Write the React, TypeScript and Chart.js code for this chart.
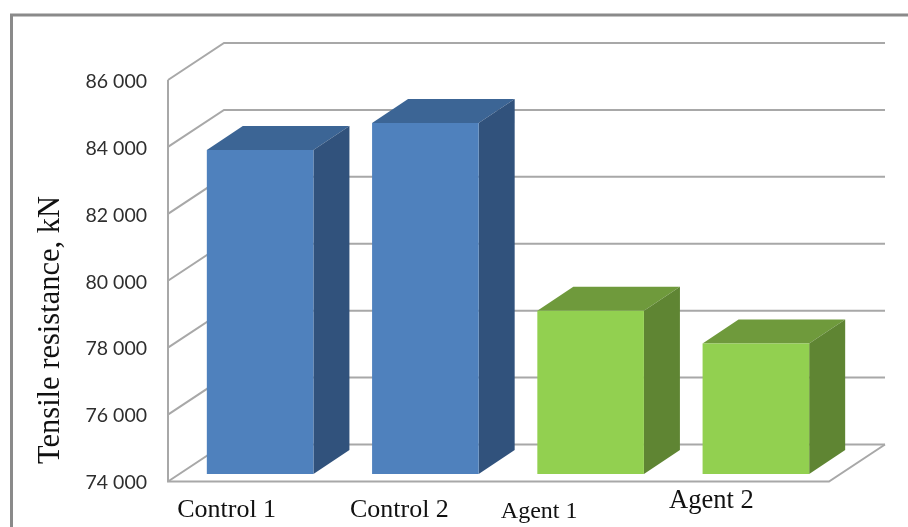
import React, { useEffect, useRef } from "react";
import { Chart, registerables } from "chart.js";

Chart.register(...registerables);

const categories = ["Control 1", "Control 2", "Agent 1", "Agent 2"];
const resistance = [83680, 84490, 78880, 77900];
const yMin = 74000;
const yMax = 86000;
const yStep = 2000;
const yTitle = "Tensile resistance, kN";

const frontFaces = ["#4f81bd", "#4f81bd", "#92d050", "#92d050"];
const topFaces = ["#3c6595", "#3c6595", "#6f9a3c", "#6f9a3c"];
const sideFaces = ["#31527c", "#31527c", "#5f8533", "#5f8533"];

// Oblique projection of the box: wall depth, bar inset and bar depth.
const WALL = { dx: 56, dy: -37 };
const INSET = { dx: 9.5, dy: -7.5 };
const BAR = { dx: 36, dy: -24 };

// Hand-placed category captions, relative to each category's centre.
const captions = [
  { nudge: -24, y: 510, size: 26 },
  { nudge: -16.5, y: 510, size: 26 },
  { nudge: -42, y: 512, size: 24 },
  { nudge: -35, y: 501, size: 26.5 },
];

const LINE = "#a8a8a8";

const frame3d = {
  id: "frame3d",
  beforeDraw(chart: any) {
    const { ctx, chartArea: a, scales } = chart;
    const y = scales.y;
    ctx.save();
    ctx.fillStyle = "#fff";
    ctx.fillRect(0, 0, chart.width, chart.height);

    // Outer panel border, open on the right and at the bottom.
    ctx.strokeStyle = "#8a8a8a";
    ctx.lineWidth = 3;
    ctx.beginPath();
    ctx.moveTo(11.5, chart.height);
    ctx.lineTo(11.5, 15);
    ctx.lineTo(chart.width, 15);
    ctx.stroke();

    // Side wall and back wall gridlines.
    ctx.strokeStyle = LINE;
    ctx.lineWidth = 2;
    for (let v = yMin; v <= yMax; v += yStep) {
      const py = y.getPixelForValue(v);
      ctx.beginPath();
      ctx.moveTo(a.left, py);
      ctx.lineTo(a.left + WALL.dx, py + WALL.dy);
      ctx.lineTo(a.right + WALL.dx, py + WALL.dy);
      ctx.stroke();
    }

    // Front edge of the side wall and of the floor.
    ctx.beginPath();
    ctx.moveTo(a.left, a.top);
    ctx.lineTo(a.left, a.bottom);
    ctx.lineTo(a.right, a.bottom);
    ctx.lineTo(a.right + WALL.dx, a.bottom + WALL.dy);
    ctx.stroke();
    ctx.restore();
  },
  beforeDatasetDraw(chart: any) {
    const { ctx } = chart;
    ctx.save();
    ctx.translate(INSET.dx, INSET.dy);
    chart.getDatasetMeta(0).data.forEach((bar: any, i: number) => {
      const { x, y, base, width } = bar.getProps(["x", "y", "base", "width"]);
      const l = x - width / 2;
      const r = x + width / 2;
      ctx.fillStyle = topFaces[i];
      ctx.beginPath();
      ctx.moveTo(l, y);
      ctx.lineTo(l + BAR.dx, y + BAR.dy);
      ctx.lineTo(r + BAR.dx, y + BAR.dy);
      ctx.lineTo(r, y);
      ctx.closePath();
      ctx.fill();
      ctx.fillStyle = sideFaces[i];
      ctx.beginPath();
      ctx.moveTo(r, y);
      ctx.lineTo(r + BAR.dx, y + BAR.dy);
      ctx.lineTo(r + BAR.dx, base + BAR.dy);
      ctx.lineTo(r, base);
      ctx.closePath();
      ctx.fill();
    });
  },
  afterDatasetDraw(chart: any) {
    chart.ctx.restore();
  },
  afterDraw(chart: any) {
    const { ctx, scales } = chart;
    ctx.save();
    ctx.fillStyle = "#111";
    ctx.textAlign = "center";
    ctx.textBaseline = "middle";
    categories.forEach((name, i) => {
      const c = captions[i];
      ctx.font = `${c.size}px "Liberation Serif"`;
      ctx.fillText(name, scales.x.getPixelForValue(i) + c.nudge, c.y);
    });
    ctx.translate(51, 330);
    ctx.rotate(-Math.PI / 2);
    ctx.font = '30.5px "Liberation Serif"';
    ctx.fillText(yTitle, 0, 0);
    ctx.restore();
  },
};

export default function App() {
  const ref = useRef<HTMLCanvasElement>(null);

  useEffect(() => {
    const chart = new Chart(ref.current!, {
      type: "bar",
      data: {
        labels: categories,
        datasets: [
          {
            data: resistance,
            base: yMin,
            backgroundColor: frontFaces,
            borderWidth: 0,
            categoryPercentage: 0.645,
            barPercentage: 1,
            clip: false,
          } as any,
        ],
      },
      plugins: [frame3d],
      options: {
        animation: false,
        responsive: false,
        layout: { padding: { left: 0, right: 79, top: 80, bottom: 45.5 } },
        plugins: { legend: { display: false }, tooltip: { enabled: false } },
        scales: {
          x: {
            grid: { display: false, drawTicks: false },
            border: { display: false },
            ticks: { display: false, padding: 0 },
            afterFit(scale: any) {
              scale.height = 0;
            },
          },
          y: {
            min: yMin,
            max: yMax,
            grid: { display: false, drawTicks: false },
            border: { display: false },
            afterFit(scale: any) {
              scale.width = 168;
            },
            ticks: {
              stepSize: yStep,
              padding: 21,
              labelOffset: 1.5,
              color: "#2e2e2e",
              font: { family: "Lato", size: 19.5 },
              callback: (v: any) =>
                `${Math.floor(v / 1000)} ${String(v % 1000).padStart(3, "0")}`,
            },
          },
        },
      },
    });
    return () => chart.destroy();
  }, []);

  return (
    <div style={{ position: "fixed", left: 0, top: 0, width: 908, height: 527 }}>
      <canvas ref={ref} width={908} height={527} style={{ display: "block" }} />
    </div>
  );
}
